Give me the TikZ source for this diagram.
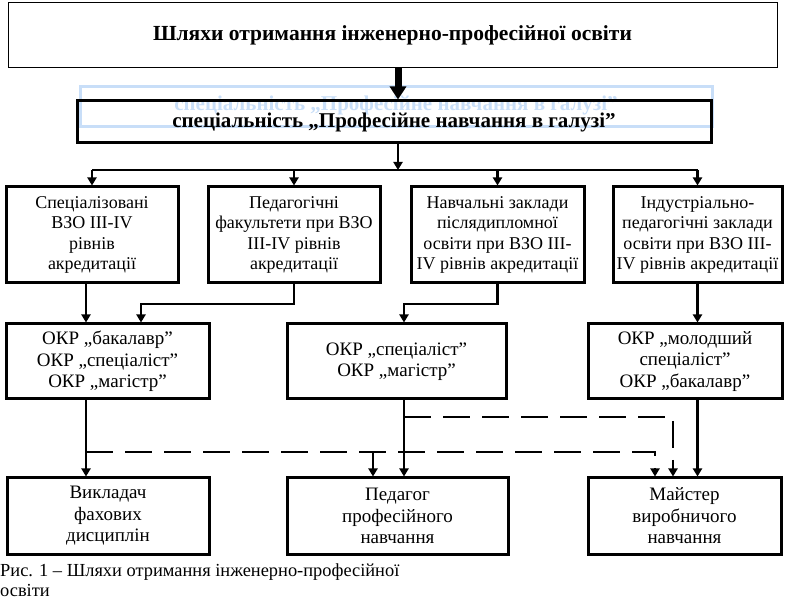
\documentclass[tikz,border=0pt]{standalone}
\usepackage{fontspec}
\setmainfont{Liberation Serif}
\usetikzlibrary{positioning,arrows.meta}

\definecolor{ghostblue}{RGB}{200,222,248}

\tikzset{
    box/.style={draw,line width=3pt,align=center,inner sep=0pt},
    link/.style={line width=2.5pt,-{Triangle[width=9pt,length=8pt]}},
    dlink/.style={link,dash pattern=on 27pt off 12pt},
    small/.style={font=\fontsize{18}{20.5}\selectfont},
    big/.style={font=\fontsize{19}{21.5}\selectfont},
    head/.style={font=\fontsize{21}{24}\selectfont\bfseries,inner sep=0pt}
}

\begin{document}
\begin{tikzpicture}[x=1pt,y=-1pt]
\useasboundingbox[fill=white] (0,0) rectangle (785,601);

\node[draw,line width=1pt,minimum width=769,minimum height=65,head,font=\fontsize{21.5}{24}\selectfont\bfseries] (title) at (392.5,35.5)
    {Шляхи отримання інженерно-професійної освіти};

\draw[ghostblue,line width=3pt] (80,87) rectangle (712,127);
\node[head,text=ghostblue] (ghost) at (396,105) {спеціальність „Професійне навчання в галузі”};
\node[box,minimum width=634,minimum height=42,head] (spec) at (394,122)
    {спеціальність „Професійне навчання в галузі”};
\draw[line width=7pt,-{Triangle[width=16pt,length=13pt]}] ([xshift=5.5pt]title.south) -- ([xshift=4pt]spec.north);

\node[box,small,minimum width=172,minimum height=96] (b1) at (92,235)
    {Спеціалізовані\\ВЗО ІІІ-IV\\рівнів\\акредитації};
\node[box,small,minimum width=172,minimum height=96] (b2) at (294,235)
    {Педагогічні\\факультети при ВЗО\\ІІІ-IV рівнів\\акредитації};
\node[box,small,minimum width=173,minimum height=96] (b3) at (497.5,235)
    {Навчальні заклади\\післядипломної\\освіти при ВЗО ІІІ-\\IV рівнів акредитації};
\node[box,small,minimum width=169,minimum height=96] (b4) at (697.5,235)
    {Індустріально-\\педагогічні заклади\\освіти при ВЗО ІІІ-\\IV рівнів акредитації};

\node[box,big,minimum width=203,minimum height=75] (b5) at (107.5,361.5)
    {ОКР „бакалавр”\\ОКР „спеціаліст”\\ОКР „магістр”};
\node[box,big,minimum width=219,minimum height=75] (b6) at (396.5,361.5)
    {ОКР „спеціаліст”\\ОКР „магістр”};
\node[box,big,minimum width=194,minimum height=75] (b7) at (685,361.5)
    {ОКР „молодший\\спеціаліст”\\ОКР „бакалавр”};

\node[box,big,minimum width=202,minimum height=76] (b8) at (108,516)
    {Викладач\\фахових\\дисциплін};
\node[box,big,minimum width=221,minimum height=76] (b9) at (397.5,516)
    {Педагог\\професійного\\навчання};
\node[box,big,minimum width=193,minimum height=76] (b10) at (684.5,516)
    {Майстер\\виробничого\\навчання};

\coordinate (bus) at (398,170);
\coordinate (c1) at (86,0);
\coordinate (j2) at (141,304);
\coordinate (j3) at (404,304);
\coordinate (d1) at (86,452);
\coordinate (d2) at (655,452);
\coordinate (d3) at (373,452);
\coordinate (u1) at (404,417);
\coordinate (u2) at (673,417);

\draw[link] ([xshift=4pt]spec.south) -- (bus);
\draw[line width=2.5pt] (b1.north |- bus) -- (b4.north |- bus);
\foreach \b in {b1,b2,b3,b4}
    \draw[link] (\b.north |- bus) -- (\b.north);

\draw[link] (b1.south -| c1) -- (b5.north -| c1);
\draw[link] (b2.south) |- (j2) -- (b5.north -| j2);
\draw[link] (b3.south) |- (j3) -- (b6.north -| j3);
\draw[link] (b4.south) -- (b4.south |- b7.north);

\draw[link] (b5.south -| c1) -- (b8.north -| c1);
\draw[link] (b6.south -| j3) -- (b9.north -| j3);
\draw[link] (b7.south -| b4.south) -- (b10.north -| b4.south);
\draw[dlink] (d1) -- (d2) -- (b10.north -| d2);
\draw[dlink] (d3) -- (b9.north -| d3);
\draw[dlink] (u1) -- (u2) -- (b10.north -| u2);

\node[font=\fontsize{18.4}{20}\selectfont,anchor=north west,align=left,inner sep=0pt] (caption) at (0,564)
    {Рис. 1 – Шляхи отримання інженерно-професійної\\освіти};
\end{tikzpicture}
\end{document}
